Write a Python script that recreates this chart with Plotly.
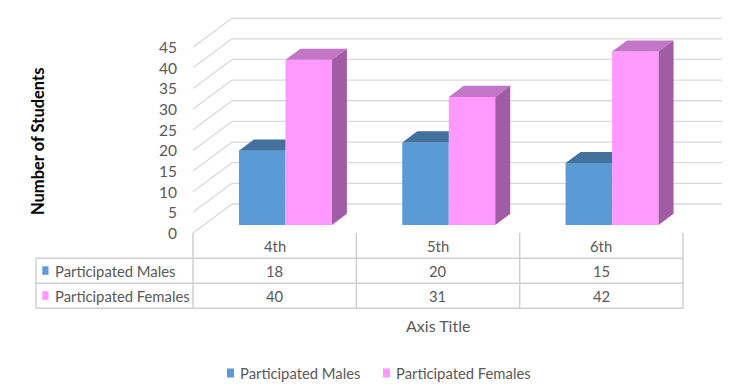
import plotly.graph_objects as go

# ---------------- data ----------------
categories = ["4th", "5th", "6th"]
males = [18, 20, 15]
females = [40, 31, 42]
series_names = ["Participated Males", "Participated Females"]
y_ticks = [0, 5, 10, 15, 20, 25, 30, 35, 40, 45]
y_title = "Number of Students"
x_title = "Axis Title"

# ---------------- styles ----------------
W, H = 738, 390
FONT = "Lato, Roboto, sans-serif"
FS = 14.8
TXT = "#595959"
GRID = "#D9D9D9"
BLUE, BLUE_TOP = "#5B9BD5", "#41719C"
PINK, PINK_TOP, PINK_SIDE = "#FF99FF", "#C376C6", "#A05DA5"

# pixel frame of the pseudo 3-D plot (layout only)
X_LEFT_PX = 193.0      # pixel of category -0.5 at the front
CAT_PX = 163.33        # pixels per category
Y_ZERO_PX = 233.0      # pixel of value 0 at the front
UNIT_PX = 4.13         # pixels per value unit


def px_x(px):
    return (px - X_LEFT_PX) / CAT_PX - 0.5


def px_y(py):
    return (Y_ZERO_PX - py) / UNIT_PX


DEPTH_X = 39 / CAT_PX
DEPTH_Y = 29 / UNIT_PX
F0, F1 = 0.276, 0.66            # bar front / back depth fractions
BAR_W = 46.5 / CAT_PX
SX, SY = F0 * DEPTH_X, F0 * DEPTH_Y
BDX, BDY = (F1 - F0) * DEPTH_X, (F1 - F0) * DEPTH_Y
n = len(categories)
idx = list(range(n))

fig = go.Figure()

# front faces
fig.add_trace(go.Bar(x=[i + SX for i in idx], y=males, base=SY, width=BAR_W, offset=-BAR_W,
                     marker=dict(color=BLUE, line=dict(width=0)), name=series_names[0],
                     hoverinfo="skip", showlegend=False))
fig.add_trace(go.Bar(x=[i + SX for i in idx], y=females, base=SY, width=BAR_W, offset=0,
                     marker=dict(color=PINK, line=dict(width=0)), name=series_names[1],
                     hoverinfo="skip", showlegend=False))

# top and side faces
for i in idx:
    m, f = males[i], females[i]
    x0, x1 = i + SX - BAR_W, i + SX
    t = SY + m
    if f > m:
        xs = [x0, x1, x1, x0 + BDX, x0]
    else:
        xs = [x0, x1, x1 + BDX, x0 + BDX, x0]
    ys = [t, t, t + BDY, t + BDY, t]
    fig.add_trace(go.Scatter(x=xs, y=ys, fill="toself", fillcolor=BLUE_TOP, mode="lines",
                             line=dict(width=0), showlegend=False, hoverinfo="skip"))
    x0, x1 = i + SX, i + SX + BAR_W
    t = SY + f
    fig.add_trace(go.Scatter(x=[x0, x1, x1 + BDX, x0 + BDX, x0], y=[t, t, t + BDY, t + BDY, t],
                             fill="toself", fillcolor=PINK_TOP, mode="lines", line=dict(width=0),
                             showlegend=False, hoverinfo="skip"))
    fig.add_trace(go.Scatter(x=[x1, x1 + BDX, x1 + BDX, x1, x1],
                             y=[SY, SY + BDY, t + BDY, t, SY],
                             fill="toself", fillcolor=PINK_SIDE, mode="lines", line=dict(width=0),
                             showlegend=False, hoverinfo="skip"))

shapes = []
annotations = []
for v in y_ticks:
    shapes.append(dict(type="line", xref="x", yref="y", x0=-0.5, y0=v, x1=-0.5 + DEPTH_X,
                       y1=v + DEPTH_Y, line=dict(color=GRID, width=1.3), layer="below"))
    shapes.append(dict(type="line", xref="x", yref="y", x0=-0.5 + DEPTH_X, y0=v + DEPTH_Y,
                       x1=n - 0.5 + DEPTH_X, y1=v + DEPTH_Y, line=dict(color=GRID, width=1.3),
                       layer="below"))
    annotations.append(dict(x=px_x(179), y=v, xref="x", yref="y", text=str(v), showarrow=False,
                            xanchor="right", yanchor="middle",
                            font=dict(family=FONT, size=15.5, color=TXT)))

# data table
TABLE_LEFT = px_x(36)
row_lines = [px_y(258.3), px_y(283.3), px_y(308.3)]
row_centers = [px_y(246), px_y(270.8), px_y(295.8)]
TB = dict(color="#D0D0D0", width=1.5)
for k in range(n + 1):
    shapes.append(dict(type="line", xref="x", yref="y", x0=k - 0.5, x1=k - 0.5, y0=0,
                       y1=row_lines[-1], line=TB, layer="below"))
for yl in row_lines:
    shapes.append(dict(type="line", xref="x", yref="y", x0=TABLE_LEFT, x1=n - 0.5, y0=yl,
                       y1=yl, line=TB, layer="below"))
shapes.append(dict(type="line", xref="x", yref="y", x0=TABLE_LEFT, x1=TABLE_LEFT,
                   y0=row_lines[0], y1=row_lines[-1], line=TB, layer="below"))

for i in idx:
    for r, txt in enumerate([categories[i], str(males[i]), str(females[i])]):
        annotations.append(dict(x=i, y=row_centers[r], xref="x", yref="y", text=txt,
                                showarrow=False, font=dict(family=FONT, size=FS, color=TXT)))

for r, (name, col) in enumerate(zip(series_names, [BLUE, PINK])):
    yc = row_centers[r + 1]
    shapes.append(dict(type="rect", xref="x", yref="y", x0=px_x(42.3), x1=px_x(48.5),
                       y0=yc - 4 / UNIT_PX, y1=yc + 4.5 / UNIT_PX, fillcolor=col,
                       line=dict(width=0)))
    annotations.append(dict(x=px_x(53), y=yc, xref="x", yref="y", text=name, showarrow=False,
                            xanchor="left", font=dict(family=FONT, size=FS, color=TXT)))

# legend (drawn below the chart)
LEG_Y = px_y(373)
leg_swatch_px = [227, 383]
for name, col, sx in zip(series_names, [BLUE, PINK], leg_swatch_px):
    shapes.append(dict(type="rect", xref="x", yref="y", x0=px_x(sx), x1=px_x(sx + 7),
                       y0=LEG_Y - 4.5 / UNIT_PX, y1=LEG_Y + 4.5 / UNIT_PX, fillcolor=col,
                       line=dict(width=0)))
    annotations.append(dict(x=px_x(sx + 11), y=LEG_Y, xref="x", yref="y", text=name,
                            showarrow=False, xanchor="left",
                            font=dict(family=FONT, size=FS, color=TXT)))

annotations.append(dict(x=(n - 1) / 2, y=px_y(325), xref="x", yref="y", text=x_title,
                        showarrow=False, font=dict(family=FONT, size=16, color=TXT)))
annotations.append(dict(x=px_x(38), y=px_y(142), xref="x", yref="y", text="<b>" + y_title + "</b>",
                        showarrow=False, textangle=-90,
                        font=dict(family=FONT, size=16.5, color="#000000")))

fig.update_layout(
    width=W, height=H,
    margin=dict(l=0, r=0, t=0, b=0),
    paper_bgcolor="white", plot_bgcolor="white",
    barmode="overlay",
    xaxis=dict(range=[px_x(0), px_x(W)], visible=False, fixedrange=True),
    yaxis=dict(range=[px_y(H), px_y(0)], visible=False, fixedrange=True),
    shapes=shapes,
    annotations=annotations,
    showlegend=False,
)

fig.write_html("out.html", config={"displayModeBar": False},
               post_script="document.body.style.margin='0';")
